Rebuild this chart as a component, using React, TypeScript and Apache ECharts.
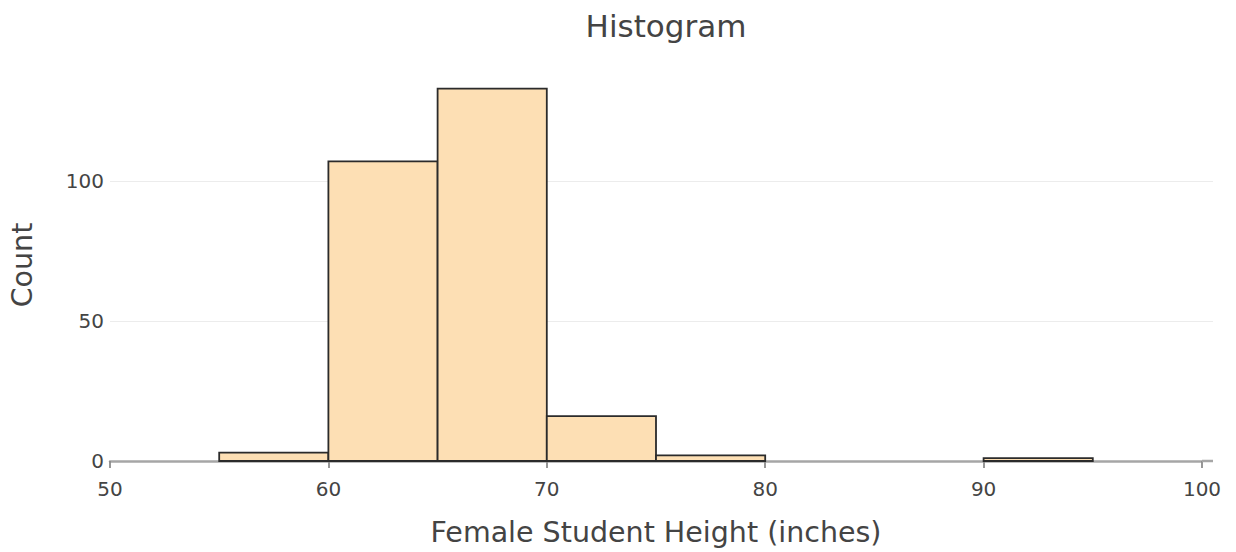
import React, { useEffect, useRef } from "react";
import * as echarts from "echarts";

const binStart = [55, 60, 65, 70, 75, 90];
const binEnd = [60, 65, 70, 75, 80, 95];
const counts = [3, 107, 133, 16, 2, 1];
const yGridValues = [50, 100];
const xTitle = "Female Student Height (inches)";
const yTitle = "Count";
const chartTitle = "Histogram";

const FONT = "DejaVu Sans";
const TEXT = "#444";

export default function App() {
  const ref = useRef<HTMLDivElement>(null);
  useEffect(() => {
    if (!ref.current) return;
    const chart = echarts.init(ref.current, undefined, { renderer: "svg" });
    const data = binStart.map((s, i) => [s, binEnd[i], counts[i]]);
    const gridLeft = 110;
    const gridRight = 34;
    const gridTop = 69;
    const gridBottom = 91;
    const plotEnd = 1213;
    chart.setOption({
      animation: false,
      backgroundColor: "#fff",
      title: {
        text: chartTitle,
        left: 661,
        top: 5,
        textAlign: "center",
        textStyle: { fontFamily: FONT, fontSize: 31, fontWeight: "normal", color: TEXT },
      },
      grid: { left: gridLeft, right: gridRight, top: gridTop, bottom: gridBottom },
      xAxis: {
        type: "value",
        min: 50,
        max: 100,
        interval: 10,
        name: xTitle,
        nameLocation: "middle",
        nameGap: 57,
        nameTextStyle: { fontFamily: FONT, fontSize: 28.5, color: TEXT },
        axisLine: { show: true, onZero: false, lineStyle: { color: "#a6a6a6", width: 2.5 } },
        axisTick: { show: true, length: 7, lineStyle: { color: "#8c8c8c", width: 1.8 } },
        axisLabel: { fontFamily: FONT, fontSize: 20, color: TEXT, margin: 18 },
        splitLine: { show: false },
      },
      yAxis: {
        type: "value",
        min: 0,
        max: 140,
        interval: 50,
        name: yTitle,
        nameLocation: "middle",
        nameGap: 73,
        nameTextStyle: { fontFamily: FONT, fontSize: 28.5, color: TEXT },
        axisLine: { show: false },
        axisTick: { show: false },
        axisLabel: {
          fontFamily: FONT,
          fontSize: 20,
          color: TEXT,
          margin: 6,
          formatter: (v: number) => (v % 50 === 0 ? String(v) : ""),
        },
        splitLine: { show: false },
      },
      series: [
        {
          type: "custom",
          data,
          encode: { x: [0, 1], y: 2 },
          renderItem: (params: any, api: any) => {
            const p0 = api.coord([api.value(0), api.value(2)]);
            const p1 = api.coord([api.value(1), 0]);
            return {
              type: "rect",
              shape: { x: p0[0], y: p0[1], width: p1[0] - p0[0], height: p1[1] - p0[1] },
              style: { fill: "#FDDFB4", stroke: "#2b2b2b", lineWidth: 1.8 },
              z2: 10,
            };
          },
          markLine: {
            silent: true,
            symbol: "none",
            label: { show: false },
            lineStyle: { color: "#ececec", width: 1, type: "solid" },
            data: yGridValues.map((v) => ({ yAxis: v })),
            z: 0,
          },
          z: 3,
        },
      ],
    });
    // extend the axis line and grid lines to the plot's right edge
    const xRight = 1236 - gridRight;
    const y0 = chart.convertToPixel({ yAxisIndex: 0 }, 0) as number;
    const extGrid = yGridValues.map((v) => {
      const yy = Math.round(chart.convertToPixel({ yAxisIndex: 0 }, v) as number) + 0.5;
      return {
        type: "line",
        shape: { x1: xRight, y1: yy, x2: plotEnd, y2: yy },
        style: { stroke: "#ececec", lineWidth: 1 },
        z: 0,
      };
    });
    chart.setOption({
      graphic: [
        {
          type: "line",
          shape: { x1: xRight, y1: y0, x2: plotEnd, y2: y0 },
          style: { stroke: "#a6a6a6", lineWidth: 2.5 },
          z: 5,
        },
        ...extGrid,
      ],
    });
    return () => chart.dispose();
  }, []);
  return (
    <div
      ref={ref}
      style={{ position: "fixed", left: 0, top: 0, width: 1236, height: 552 }}
    />
  );
}
